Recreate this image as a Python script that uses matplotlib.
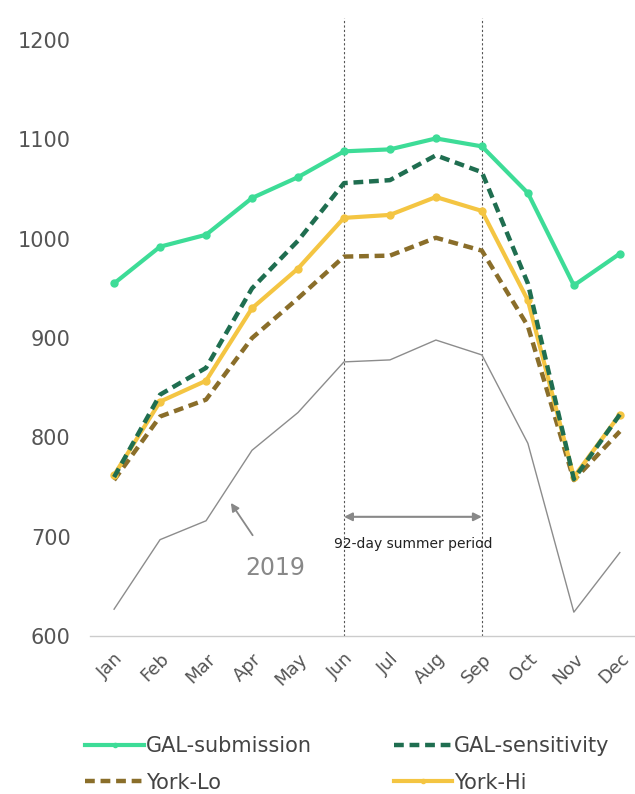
import matplotlib
matplotlib.use("Agg")
import matplotlib.pyplot as plt
from matplotlib.lines import Line2D

months = ["Jan", "Feb", "Mar", "Apr", "May", "Jun", "Jul", "Aug", "Sep", "Oct", "Nov", "Dec"]
gal_submission = [955, 992, 1004, 1041, 1062, 1088, 1090, 1101, 1093, 1046, 953, 985]
gal_sensitivity = [760, 843, 870, 950, 998, 1056, 1059, 1084, 1067, 955, 758, 823]
york_lo = [757, 821, 838, 900, 940, 982, 983, 1001, 988, 912, 757, 806]
york_hi = [762, 836, 857, 930, 970, 1021, 1024, 1042, 1028, 938, 760, 823]
y2019 = [627, 697, 716, 787, 825, 876, 878, 898, 883, 794, 624, 684]
yticks = [600, 700, 800, 900, 1000, 1100, 1200]

c_sub = "#3DDC97"
c_sens = "#1F6E50"
c_lo = "#8A6E2A"
c_hi = "#F4C542"
c_2019 = "#8C8C8C"
c_text = "#555555"

plt.rcParams['font.family'] = ['DejaVu Sans']

fig = plt.figure(figsize=(6.35, 7.94), dpi=100)
ax = fig.add_axes([0.142, 0.199, 0.858, 0.778])
x = list(range(len(months)))

ax.plot(x, y2019, color=c_2019, lw=1.0, zorder=2)
ax.plot(x, york_lo, color=c_lo, lw=3.2, ls=(0, (2.2, 1.3)), zorder=3)
ax.plot(x, york_hi, color=c_hi, lw=3.0, marker="o", ms=5, zorder=4)
ax.plot(x, gal_sensitivity, color=c_sens, lw=3.2, ls=(0, (2.2, 1.3)), zorder=5)
ax.plot(x, gal_submission, color=c_sub, lw=3.0, marker="o", ms=5, zorder=6)

for xv in (5, 8):
    ax.axvline(xv, color="#555555", lw=0.8, ls=(0, (2, 2)), zorder=1)

ax.annotate("", xy=(5, 720), xytext=(8, 720),
            arrowprops=dict(arrowstyle="<|-|>", color="#888888", lw=1.5,
                            mutation_scale=12, shrinkA=0, shrinkB=0))
ax.text(6.5, 693, "92-day summer period", ha="center", va="center",
        fontsize=10, color="#222222")
ax.annotate("2019", xy=(2.54, 734), xytext=(3.5, 668),
            ha="center", va="center", fontsize=17, color="#888888",
            arrowprops=dict(arrowstyle="-|>", color="#888888", lw=1.3,
                            mutation_scale=12, shrinkA=16, shrinkB=0))

ax.set_xlim(-0.52, 11.33)
ax.set_ylim(600, 1222)
ax.set_yticks(yticks)
ax.set_yticklabels([str(v) for v in yticks], fontsize=15, color=c_text)
ax.set_xticks(x)
ax.set_xticklabels(months, rotation=45, ha="right", va="top",
                   rotation_mode="anchor", fontsize=13, color=c_text)
ax.tick_params(axis="y", length=0, pad=14)
ax.tick_params(axis="x", length=0, pad=10)
for s in ["top", "right", "left"]:
    ax.spines[s].set_visible(False)
ax.spines["bottom"].set_color("#cccccc")
ax.spines["bottom"].set_linewidth(1.0)

h_sub = Line2D([], [], color=c_sub, lw=3, marker="o", ms=3)
h_sens = Line2D([], [], color=c_sens, lw=3.2, ls=(0, (2.2, 1.3)))
h_lo = Line2D([], [], color=c_lo, lw=3.2, ls=(0, (2.2, 1.3)))
h_hi = Line2D([], [], color=c_hi, lw=3, marker="o", ms=3)
handles = [h_sub, h_lo, h_sens, h_hi]
labels = ["GAL-submission", "York-Lo", "GAL-sensitivity", "York-Hi"]
fig.legend(handles, labels, loc="lower left", bbox_to_anchor=(0.105, -0.022),
           ncol=2, frameon=False, fontsize=15, labelcolor="#444444",
           handlelength=2.8, handletextpad=0.12, columnspacing=3.9,
           labelspacing=0.8)

fig.savefig("out.png", dpi=100)
